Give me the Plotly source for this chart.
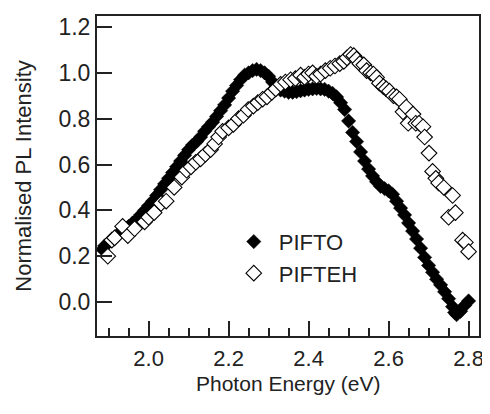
import plotly.graph_objects as go

# PIFTO (filled diamonds)
pifto_x = [1.885, 1.89, 1.90, 1.91, 1.92, 1.93, 1.94, 1.95, 1.96, 1.97, 1.98, 1.99,
           2.00, 2.01, 2.02, 2.03, 2.04, 2.05, 2.06, 2.07, 2.08, 2.09, 2.10, 2.11,
           2.12, 2.13, 2.14, 2.15, 2.16, 2.17, 2.18, 2.19, 2.20, 2.21, 2.22, 2.23,
           2.24, 2.25, 2.26, 2.27, 2.28, 2.29, 2.30, 2.31, 2.32, 2.33, 2.34, 2.35,
           2.36, 2.37, 2.38, 2.39, 2.40, 2.41, 2.42, 2.43, 2.44, 2.45, 2.46, 2.47,
           2.48, 2.49, 2.50, 2.51, 2.52, 2.53, 2.54, 2.55, 2.56, 2.57, 2.58, 2.59,
           2.60, 2.61, 2.62, 2.63, 2.64, 2.65, 2.66, 2.67, 2.68, 2.69, 2.70, 2.71,
           2.72, 2.73, 2.74, 2.75, 2.76, 2.765, 2.77, 2.78, 2.79, 2.80]
pifto_y = [0.23, 0.245, 0.26, 0.275, 0.29, 0.305, 0.315, 0.33, 0.345, 0.36, 0.38, 0.40,
           0.42, 0.44, 0.465, 0.49, 0.515, 0.54, 0.565, 0.59, 0.615, 0.64, 0.665, 0.685,
           0.70, 0.72, 0.745, 0.765, 0.785, 0.81, 0.835, 0.86, 0.89, 0.92, 0.945, 0.97,
           0.99, 1.00, 1.01, 1.015, 1.01, 1.00, 0.985, 0.96, 0.94, 0.925, 0.92, 0.915,
           0.915, 0.918, 0.922, 0.925, 0.928, 0.93, 0.932, 0.93, 0.928, 0.92, 0.91, 0.895,
           0.87, 0.84, 0.79, 0.74, 0.70, 0.655, 0.615, 0.58, 0.55, 0.525, 0.505, 0.495,
           0.485, 0.47, 0.44, 0.41, 0.38, 0.345, 0.31, 0.275, 0.235, 0.195, 0.16, 0.13,
           0.10, 0.075, 0.045, 0.015, -0.02, -0.045, -0.055, -0.04, -0.015, 0.005]

# PIFTEH (open diamonds)
pifteh_x = [1.898, 1.908, 1.915, 1.935, 1.948, 1.965, 1.99, 2.00, 2.014, 2.031, 2.044,
            2.064, 2.083, 2.095, 2.106, 2.118, 2.13, 2.142, 2.155, 2.165, 2.175, 2.185,
            2.20, 2.212, 2.225, 2.237, 2.249, 2.262, 2.273, 2.285, 2.296, 2.308, 2.318,
            2.33, 2.342, 2.355, 2.367, 2.38, 2.39, 2.40, 2.41, 2.42, 2.43, 2.442, 2.454,
            2.466, 2.478, 2.488, 2.496, 2.505, 2.513, 2.52, 2.528, 2.538, 2.545, 2.555,
            2.562, 2.57, 2.577, 2.587, 2.594, 2.602, 2.612, 2.62, 2.627, 2.636, 2.644,
            2.649, 2.661, 2.668, 2.676, 2.686, 2.69, 2.701, 2.71, 2.718, 2.725, 2.738,
            2.75, 2.76, 2.767, 2.785, 2.792, 2.80]
pifteh_y = [0.20, 0.27, 0.28, 0.33, 0.29, 0.32, 0.35, 0.37, 0.39, 0.43, 0.44,
            0.50, 0.545, 0.575, 0.59, 0.61, 0.625, 0.645, 0.665, 0.69, 0.72, 0.745,
            0.76, 0.775, 0.80, 0.815, 0.84, 0.855, 0.87, 0.885, 0.895, 0.915, 0.93,
            0.95, 0.96, 0.97, 0.975, 0.99, 0.98, 0.995, 1.00, 0.985, 0.995, 1.01, 1.02,
            1.03, 1.04, 1.05, 1.065, 1.08, 1.075, 1.06, 1.04, 1.035, 1.01, 1.00,
            0.995, 0.98, 0.955, 0.94, 0.93, 0.92, 0.90, 0.895, 0.885, 0.83, 0.85,
            0.78, 0.82, 0.78, 0.78, 0.765, 0.72, 0.65, 0.57, 0.54, 0.52, 0.50,
            0.37, 0.465, 0.39, 0.27, 0.26, 0.22]

x_ticks = [2.0, 2.2, 2.4, 2.6, 2.8]
x_ticklabels = ["2.0", "2.2", "2.4", "2.6", "2.8"]
y_ticks = [0.0, 0.2, 0.4, 0.6, 0.8, 1.0, 1.2]
y_ticklabels = ["0.0", "0.2", "0.4", "0.6", "0.8", "1.0", "1.2"]
x_title = "Photon Energy (eV)"
y_title = "Normalised PL Intensity"

FONT = "Liberation Sans, Arial, sans-serif"
INK = "#222222"

fig = go.Figure()
fig.add_trace(go.Scatter(
    x=pifto_x, y=pifto_y, mode="markers", name="PIFTO",
    marker=dict(symbol="diamond", size=11, color="black",
                line=dict(color="black", width=0.5)),
))
fig.add_trace(go.Scatter(
    x=pifteh_x, y=pifteh_y, mode="markers", name="PIFTEH",
    marker=dict(symbol="diamond", size=12, color="white",
                line=dict(color="black", width=1.1)),
))

# page body has an 8px default margin, so the figure is sized to fit the window
fig.update_layout(
    width=482, height=406,
    margin=dict(l=89, r=6, t=6, b=78),
    paper_bgcolor="white", plot_bgcolor="white",
    font=dict(family=FONT, size=21, color=INK),
    showlegend=True,
    legend=dict(x=0.345, y=0.36, xanchor="left", yanchor="top",
                bgcolor="rgba(0,0,0,0)", font=dict(size=22),
                itemwidth=40, tracegroupgap=0),
    annotations=[dict(text=x_title, xref="paper", yref="paper", x=0.5, y=0,
                      xanchor="center", yanchor="middle", yshift=-47,
                      showarrow=False, font=dict(size=21, color=INK))],
)
fig.update_xaxes(
    range=[1.871, 2.826], tickmode="array", tickvals=x_ticks, ticktext=x_ticklabels,
    tickfont=dict(size=22),
    ticks="inside", ticklen=15, tickwidth=2, tickcolor=INK,
    ticklabelstandoff=2,
    minor=dict(dtick=0.05, tick0=1.9, ticks="inside", ticklen=8, tickwidth=2,
               tickcolor=INK, showgrid=False),
    showline=True, linewidth=2, linecolor=INK, mirror=True,
    showgrid=False, zeroline=False,
)
fig.update_yaxes(
    range=[-0.148, 1.248], tickmode="array", tickvals=y_ticks, ticktext=y_ticklabels,
    tickfont=dict(size=23),
    ticks="inside", ticklen=15, tickwidth=2, tickcolor=INK,
    showline=True, linewidth=2, linecolor=INK, mirror=True,
    showgrid=False, zeroline=False,
    title=dict(text=y_title, standoff=21, font=dict(size=22)),
)

fig.write_html("out.html")
